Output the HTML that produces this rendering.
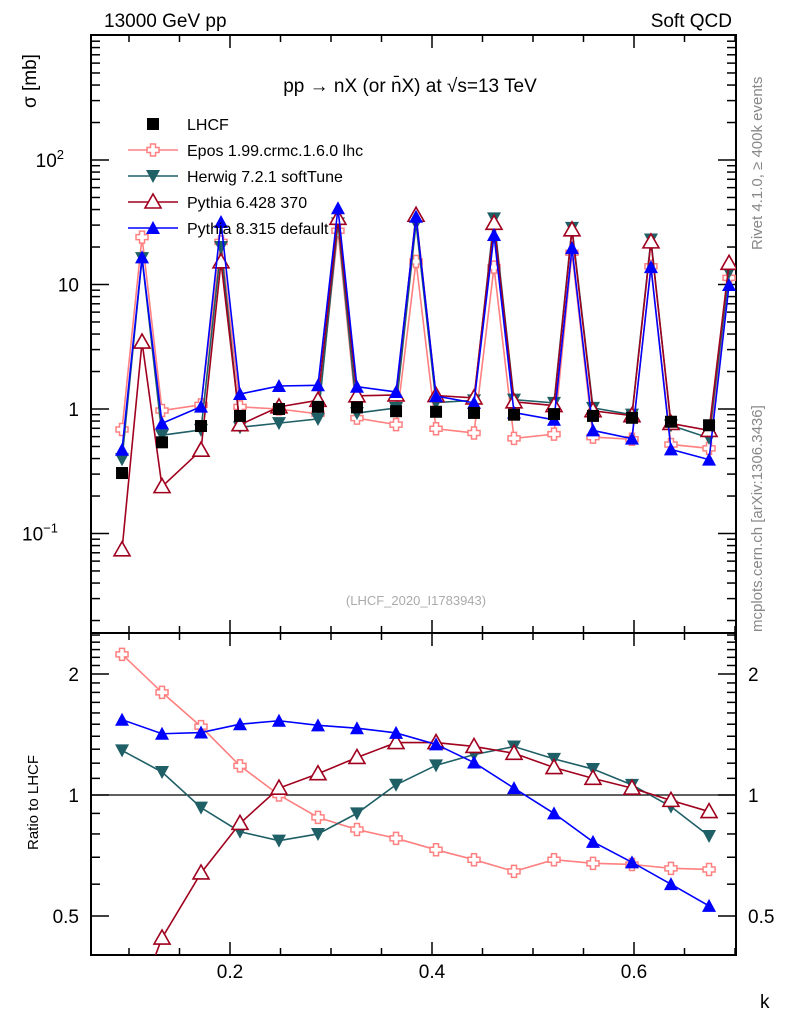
<!DOCTYPE html>
<html><head><meta charset="utf-8"><style>
body{margin:0;background:#fff;}
svg text{font-family:"Liberation Sans",sans-serif;}
</style></head><body>
<svg id="c" width="786" height="1024" xmlns="http://www.w3.org/2000/svg">
<defs>
<clipPath id="clipM"><rect x="91" y="35" width="645" height="598"/></clipPath>
<clipPath id="clipR"><rect x="91" y="633" width="645" height="322"/></clipPath>
</defs>
<text x="104" y="27" font-size="19">13000 GeV pp</text>
<text x="732" y="27" font-size="19" text-anchor="end">Soft QCD</text>
<text x="410" y="92" font-size="19" text-anchor="middle">pp → nX (or n̄X) at √s=13 TeV</text>
<text x="416" y="605" font-size="13" fill="#aaa" text-anchor="middle">(LHCF_2020_I1783943)</text>
<text transform="translate(762,250) rotate(-90)" font-size="15" fill="#888">Rivet 4.1.0, ≥ 400k events</text>
<text transform="translate(762,632) rotate(-90)" font-size="15" fill="#888">mcplots.cern.ch [arXiv:1306.3436]</text>
<text transform="translate(36,108) rotate(-90)" font-size="19">σ [mb]</text>
<text transform="translate(38,850) rotate(-90)" font-size="15">Ratio to LHCF</text>
<text x="760" y="1008" font-size="19">k</text>
<g id="axes"></g>
<g id="marks"></g>
<g id="legend"></g>
</svg>
<script>
const kNon=[0.0931,0.1327,0.1713,0.2099,0.2485,0.2871,0.3257,0.3644,0.4040,0.4416,0.4812,0.5208,0.5594,0.5980,0.6366,0.6743];
const kPeak=[0.1129,0.1911,0.3069,0.3842,0.4614,0.5386,0.6168,0.6941];
const lhcf=[0.306,0.54,0.73,0.88,1.0,1.04,1.03,0.96,0.95,0.93,0.9,0.91,0.88,0.85,0.79,0.74];
const eposNon=[0.685,0.972,1.08,1.04,1.00,0.915,0.845,0.749,0.694,0.642,0.581,0.628,0.595,0.571,0.519,0.483];
const eposPeak=[24,22,27,15.3,13.8,18,14,11.3];
const herwigNon=[0.395,0.616,0.679,0.713,0.77,0.832,0.927,1.018,1.126,1.172,1.188,1.119,1.021,0.901,0.739,0.585];
const herwigPeak=[16.3,20,31,31,34,28.5,23,12.6];
const py6Non=[0.074,0.238,0.467,0.748,1.04,1.175,1.277,1.296,1.283,1.228,1.143,1.065,0.968,0.884,0.766,0.673];
const py6Peak=[3.45,15.2,34,36,31,27.5,22,14.8];
const py8Non=[0.471,0.767,1.044,1.32,1.53,1.55,1.51,1.37,1.27,1.12,0.936,0.819,0.673,0.578,0.474,0.392];
const py8Peak=[16.5,31.8,41,35,25,19.6,13.8,9.9];
const seriesNames=["Epos 1.99.crmc.1.6.0 lhc","Herwig 7.2.1 softTune","Pythia 6.428 370","Pythia 8.315 default"];

const NS="http://www.w3.org/2000/svg";
const X0=91,X1=736,MT=35,MB=633,RB=955;
const xs=k=>28+1010*k;
const ym=v=>409-124.5*Math.log10(v);
const yr=r=>795-121*Math.log2(r);
function el(t,a,p){const e=document.createElementNS(NS,t);for(const k in a)e.setAttribute(k,a[k]);p.appendChild(e);return e;}
const axes=document.getElementById('axes'),marks=document.getElementById('marks'),leg=document.getElementById('legend');

// frames
let f1=el('rect',{x:X0,y:MT,width:X1-X0,height:MB-MT,fill:'none',stroke:'#000','stroke-width':2},axes);


let f2=el('rect',{x:X0,y:MB,width:X1-X0,height:RB-MB,fill:'none',stroke:'#000','stroke-width':2},axes);


// x ticks
for(let i=2;i<=14;i++){const k=i*0.05;const x=xs(k);const maj=(i%4===0);const L=maj?13:7;
 for(const [y,d] of [[MT,1],[MB,-1],[MB,1],[RB,-1]]) el('line',{x1:x,x2:x,y1:y,y2:y+d*L,stroke:'#000','stroke-width':1.5},axes);
 if(maj){const t=el('text',{x:x,y:978,'font-size':19,'text-anchor':'middle'},axes);t.textContent=k.toFixed(1);
 
 }}
// main y ticks
for(let e=-2;e<=2;e++)for(let m=1;m<10;m++){const v=m*Math.pow(10,e);const y=ym(v);if(y<MT||y>MB)continue;const L=m===1?18:9;
 el('line',{x1:X0,x2:X0+L,y1:y,y2:y,stroke:'#000','stroke-width':1.5},axes);
 el('line',{x1:X1,x2:X1-L,y1:y,y2:y,stroke:'#000','stroke-width':1.5},axes);}
const ylabs=[[100,'10','2'],[10,'10',''],[1,'1',''],[0.1,'10','−1']];
for(const [v,b,s] of ylabs){const t=el('text',{x:s?68:79,y:ym(v)+7,'font-size':19,'text-anchor':'end'},axes);
 
 
 if(s){t.setAttribute('x',s==='2'?64:58);t.textContent=b;const ts=el('tspan',{dy:-8,'font-size':13},t);ts.textContent=s;}else t.textContent=b;}
// ratio ticks
for(let i=4;i<=25;i++){const r=i/10;const y=yr(r);if(y<MB||y>RB)continue;const maj=(i===5||i===10||i===20);const L=maj?18:9;
 el('line',{x1:X0,x2:X0+L,y1:y,y2:y,stroke:'#000','stroke-width':1.5},axes);
 el('line',{x1:X1,x2:X1-L,y1:y,y2:y,stroke:'#000','stroke-width':1.5},axes);}
for(const [r,s] of [[2,'2'],[1,'1'],[0.5,'0.5']]){
 const t=el('text',{x:79,y:yr(r)+7,'font-size':19,'text-anchor':'end'},axes);t.textContent=s;
 
 
 const t2=el('text',{x:748,y:yr(r)+7,'font-size':19},axes);t2.textContent=s;
 
 }
el('line',{x1:X0,x2:X1,y1:yr(1),y2:yr(1),stroke:'#000','stroke-width':1.3},axes);

function marker(type,x,y,col,g){
 if(type==='sq')return el('rect',{x:x-6,y:y-6,width:12,height:12,fill:'#000'},g);
 if(type==='cross')return el('path',{d:`M${x-2.5},${y-6}h5v3.5h3.5v5h-3.5v3.5h-5v-3.5h-3.5v-5h3.5z`,fill:'#fff',stroke:col,'stroke-width':1.5},g);
 if(type==='down')return el('path',{d:`M${x-7},${y-6}L${x+7},${y-6}L${x},${y+7}z`,fill:col},g);
 if(type==='up')return el('path',{d:`M${x-7},${y+6}L${x+7},${y+6}L${x},${y-7}z`,fill:col},g);
 if(type==='upo')return el('path',{d:`M${x-8},${y+6}L${x+8},${y+6}L${x},${y-8}z`,fill:'#fff',stroke:col,'stroke-width':1.6},g);
}
const models=[
 {n:seriesNames[0],non:eposNon,pk:eposPeak,col:'#ff8080',m:'cross',id:'epos'},
 {n:seriesNames[1],non:herwigNon,pk:herwigPeak,col:'#1f5f66',m:'down',id:'herwig'},
 {n:seriesNames[2],non:py6Non,pk:py6Peak,col:'#a0001e',m:'upo',id:'pythia6'},
 {n:seriesNames[3],non:py8Non,pk:py8Peak,col:'#0000ff',m:'up',id:'pythia8'}];
for(const md of models){
 const pts=[];kNon.forEach((k,i)=>pts.push([k,md.non[i]]));kPeak.forEach((k,i)=>pts.push([k,md.pk[i]]));pts.sort((a,b)=>a[0]-b[0]);
 const g=el('g',{'clip-path':'url(#clipM)'},marks);
 
 
 el('polyline',{points:pts.map(p=>xs(p[0])+','+ym(p[1])).join(' '),fill:'none',stroke:md.col,'stroke-width':1.6},g);
 pts.forEach(p=>{const mk=marker(md.m,xs(p[0]),ym(p[1]),md.col,g);
  
  });
 const g2=el('g',{'clip-path':'url(#clipR)'},marks);
 
 
 const rp=kNon.map((k,i)=>[k,md.non[i]/lhcf[i]]);
 el('polyline',{points:rp.map(p=>xs(p[0])+','+yr(p[1])).join(' '),fill:'none',stroke:md.col,'stroke-width':1.6},g2);
 rp.forEach(p=>{const mk=marker(md.m,xs(p[0]),yr(p[1]),md.col,g2);
  
  });
}
kNon.forEach((k,i)=>{const mk=marker('sq',xs(k),ym(lhcf[i]),'#000',marks);
 
 });
// legend
const ly=[124,150,176,202,228];
let lg=el('g',{},leg);


marker('sq',153,ly[0],'#000',lg);
let lt=el('text',{x:187,y:ly[0]+6,'font-size':16},lg);lt.textContent='LHCF';
models.forEach((md,i)=>{const g=el('g',{},leg);
 
 
 el('line',{x1:128,x2:178,y1:ly[i+1],y2:ly[i+1],stroke:md.col,'stroke-width':1.6},g);
 marker(md.m,153,ly[i+1],md.col,g);
 const t=el('text',{x:187,y:ly[i+1]+6,'font-size':16},g);t.textContent=md.n;});
</script>
</body></html>
